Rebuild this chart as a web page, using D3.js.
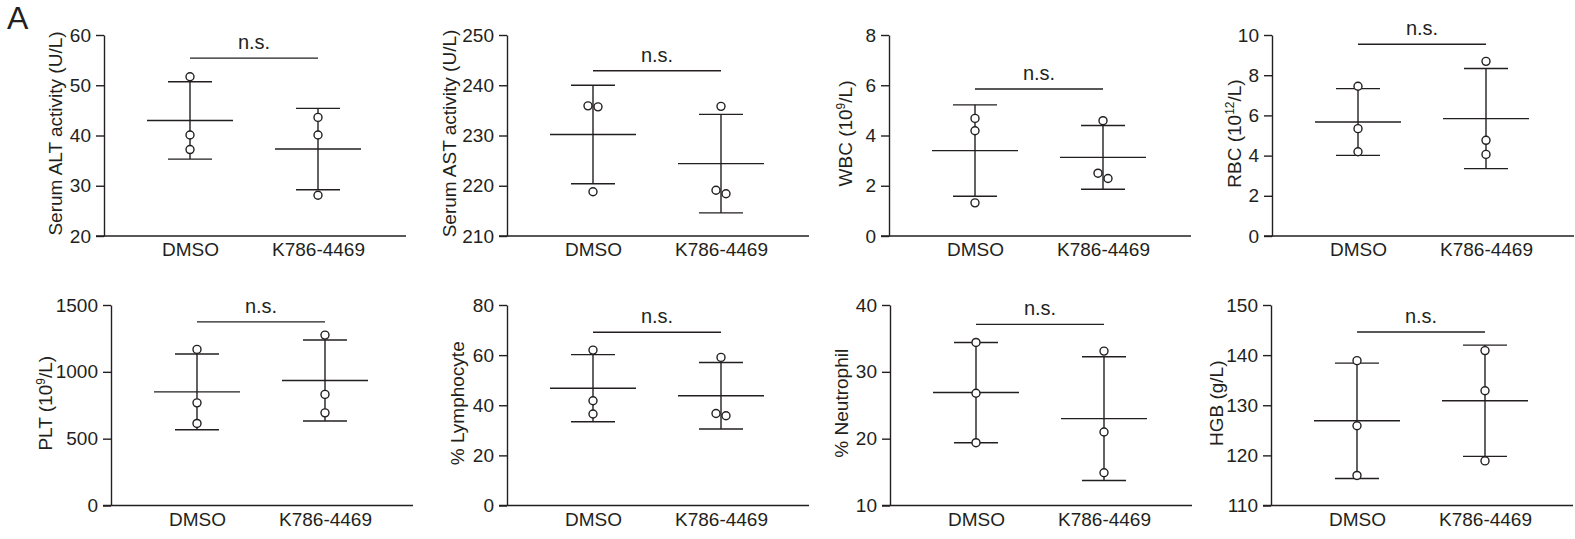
<!DOCTYPE html>
<html>
<head>
<meta charset="utf-8">
<script src="https://cdn.jsdelivr.net/npm/d3@7"></script>
<style>
  body { margin: 0; background: #fff; }
  text { font-family: "Liberation Sans", Arial, sans-serif; fill: #231f20; }
</style>
</head>
<body>
<div id="chart"></div>
<script>
// groups on the x axis
const groups = ["DMSO", "K786-4469"];

// y axis titles, ^ marks a superscript
const yTitles = [
  "Serum ALT activity (U/L)", "Serum AST activity (U/L)", "WBC (10^9/L)", "RBC (10^12/L)",
  "PLT (10^9/L)", "% Lymphocyte", "% Neutrophil", "HGB (g/L)"
];

// y tick labels for each panel
const yTicks = [
  [20, 30, 40, 50, 60],
  [210, 220, 230, 240, 250],
  [0, 2, 4, 6, 8],
  [0, 2, 4, 6, 8, 10],
  [0, 500, 1000, 1500],
  [0, 20, 40, 60, 80],
  [10, 20, 30, 40],
  [110, 120, 130, 140, 150]
];

// individual animals
const dmsoPoints = [
  [51.7, 40.1, 37.2],
  [235.9, 235.7, 218.8],
  [4.68, 4.19, 1.32],
  [7.45, 5.34, 4.19],
  [1168, 768, 614],
  [62.0, 41.8, 36.5],
  [34.4, 26.8, 19.4],
  [138.9, 125.9, 116.0]
];
const k786Points = [
  [43.6, 40.1, 28.1],
  [235.8, 219.1, 218.4],
  [4.59, 2.50, 2.29],
  [8.69, 4.76, 4.06],
  [1275, 831, 693],
  [59.1, 36.7, 35.8],
  [33.1, 21.0, 14.9],
  [140.9, 132.9, 118.9]
];

// mean and SD
const dmsoMean = [43.0, 230.2, 3.40, 5.67, 850, 46.8, 26.9, 126.9];
const dmsoSD = [7.7, 9.8, 1.82, 1.66, 283, 13.4, 7.5, 11.5];
const k786Mean = [37.3, 224.4, 3.13, 5.84, 935, 43.8, 23.0, 130.9];
const k786SD = [8.1, 9.8, 1.27, 2.49, 303, 13.25, 9.25, 11.1];

// height of the n.s. bracket, in data units
const sigLevel = [55.4, 242.9, 5.85, 9.54, 1374, 69.1, 37.1, 144.6];
const sigText = ["n.s.", "n.s.", "n.s.", "n.s.", "n.s.", "n.s.", "n.s.", "n.s."];

// page layout
const width = 1575, height = 539;
const axisX = [104, 507, 889, 1272, 111, 507, 890, 1271];
const titleGap = [42, 51, 37, 31, 59, 43, 42, 48];
const rowTop = [35, 305], rowBottom = [236, 505.5];
const ink = "#231f20";
const r = 4;
const fontSize = "19px";

const svg = d3.select("#chart")
  .append("svg")
  .attr("width", width)
  .attr("height", height)
  .style("background", "#fff");

svg.append("text")
  .attr("x", 7)
  .attr("y", 29)
  .style("font-size", "32px")
  .text("A");

yTitles.forEach(function(title, i) {
  const row = i < 4 ? 0 : 1;
  const x0 = axisX[i];
  const ticks = yTicks[i];

  const g = svg.append("g");

  const yScale = d3.scaleLinear()
    .domain([ticks[0], ticks[ticks.length - 1]])
    .range([rowBottom[row], rowTop[row]]);

  const xScale = d3.scalePoint()
    .domain(groups)
    .range([x0 + 86, x0 + 214]);

  // y axis
  const yAxis = g.append("g")
    .attr("transform", `translate(${x0},0)`)
    .call(d3.axisLeft(yScale).tickValues(ticks).tickFormat(d3.format("d"))
      .tickSize(8).tickSizeOuter(0).tickPadding(5));
  yAxis.selectAll("path, line").attr("stroke", ink).attr("stroke-width", 1.4);
  yAxis.selectAll("text").style("font-size", fontSize).attr("fill", ink)
    .style("font-family", "'Liberation Sans', Arial, sans-serif");

  // x axis line runs on past the last group
  g.append("line")
    .attr("x1", x0 - 8)
    .attr("x2", x0 + 302)
    .attr("y1", yScale.range()[0])
    .attr("y2", yScale.range()[0])
    .attr("stroke", ink)
    .attr("stroke-width", 1.4);

  const xAxis = g.append("g")
    .attr("transform", `translate(0,${yScale.range()[0]})`)
    .call(d3.axisBottom(xScale).tickSize(0).tickPadding(7));
  xAxis.select(".domain").remove();
  xAxis.selectAll("text").style("font-size", fontSize).attr("fill", ink)
    .style("font-family", "'Liberation Sans', Arial, sans-serif");

  // y title with superscripts
  const midY = (rowTop[row] + rowBottom[row]) / 2 - 2;
  const label = g.append("text")
    .attr("transform", `translate(${x0 - titleGap[i]},${midY}) rotate(-90)`)
    .style("text-anchor", "middle")
    .style("font-size", fontSize);
  const parts = title.split(/\^(\d+)/);
  parts.forEach(function(p, k) {
    if (p === "") return;
    if (k % 2 === 1) {
      label.append("tspan").attr("dy", -7).style("font-size", "12px").text(p);
    } else {
      const t = label.append("tspan").text(p);
      if (k > 0) t.attr("dy", 7);
    }
  });

  // mean, SD and points for each group
  const stats = [
    { name: groups[0], mean: dmsoMean[i], sd: dmsoSD[i], pts: dmsoPoints[i] },
    { name: groups[1], mean: k786Mean[i], sd: k786SD[i], pts: k786Points[i] }
  ];

  stats.forEach(function(s) {
    const cx = xScale(s.name);

    g.append("line")
      .attr("x1", cx).attr("x2", cx)
      .attr("y1", yScale(s.mean - s.sd)).attr("y2", yScale(s.mean + s.sd))
      .attr("stroke", ink).attr("stroke-width", 1.4);

    [s.mean - s.sd, s.mean + s.sd].forEach(function(v) {
      g.append("line")
        .attr("x1", cx - 22).attr("x2", cx + 22)
        .attr("y1", yScale(v)).attr("y2", yScale(v))
        .attr("stroke", ink).attr("stroke-width", 1.4);
    });

    g.append("line")
      .attr("x1", cx - 43).attr("x2", cx + 43)
      .attr("y1", yScale(s.mean)).attr("y2", yScale(s.mean))
      .attr("stroke", ink).attr("stroke-width", 1.4);

    // nudge points sideways when they would overlap
    const placed = s.pts.map(v => ({ v: v, py: yScale(v), dx: 0 }))
      .sort((a, b) => a.py - b.py);
    for (let k = 1; k < placed.length; k++) {
      if (Math.abs(placed[k].py - placed[k - 1].py) < 2 * r + 2 && placed[k - 1].dx === 0) {
        placed[k - 1].dx = -5;
        placed[k].dx = 5;
      }
    }

    g.selectAll(null)
      .data(placed)
      .enter()
      .append("circle")
      .attr("cx", d => cx + d.dx)
      .attr("cy", d => d.py)
      .attr("r", r)
      .attr("fill", "#fff")
      .attr("stroke", ink)
      .attr("stroke-width", 1.4);
  });

  // significance bracket
  const sy = yScale(sigLevel[i]);
  g.append("line")
    .attr("x1", xScale(groups[0])).attr("x2", xScale(groups[1]))
    .attr("y1", sy).attr("y2", sy)
    .attr("stroke", ink).attr("stroke-width", 1.4);

  g.append("text")
    .attr("x", (xScale(groups[0]) + xScale(groups[1])) / 2)
    .attr("y", sy - 9)
    .style("text-anchor", "middle")
    .style("font-size", "20px")
    .text(sigText[i]);
});
</script>
</body>
</html>
